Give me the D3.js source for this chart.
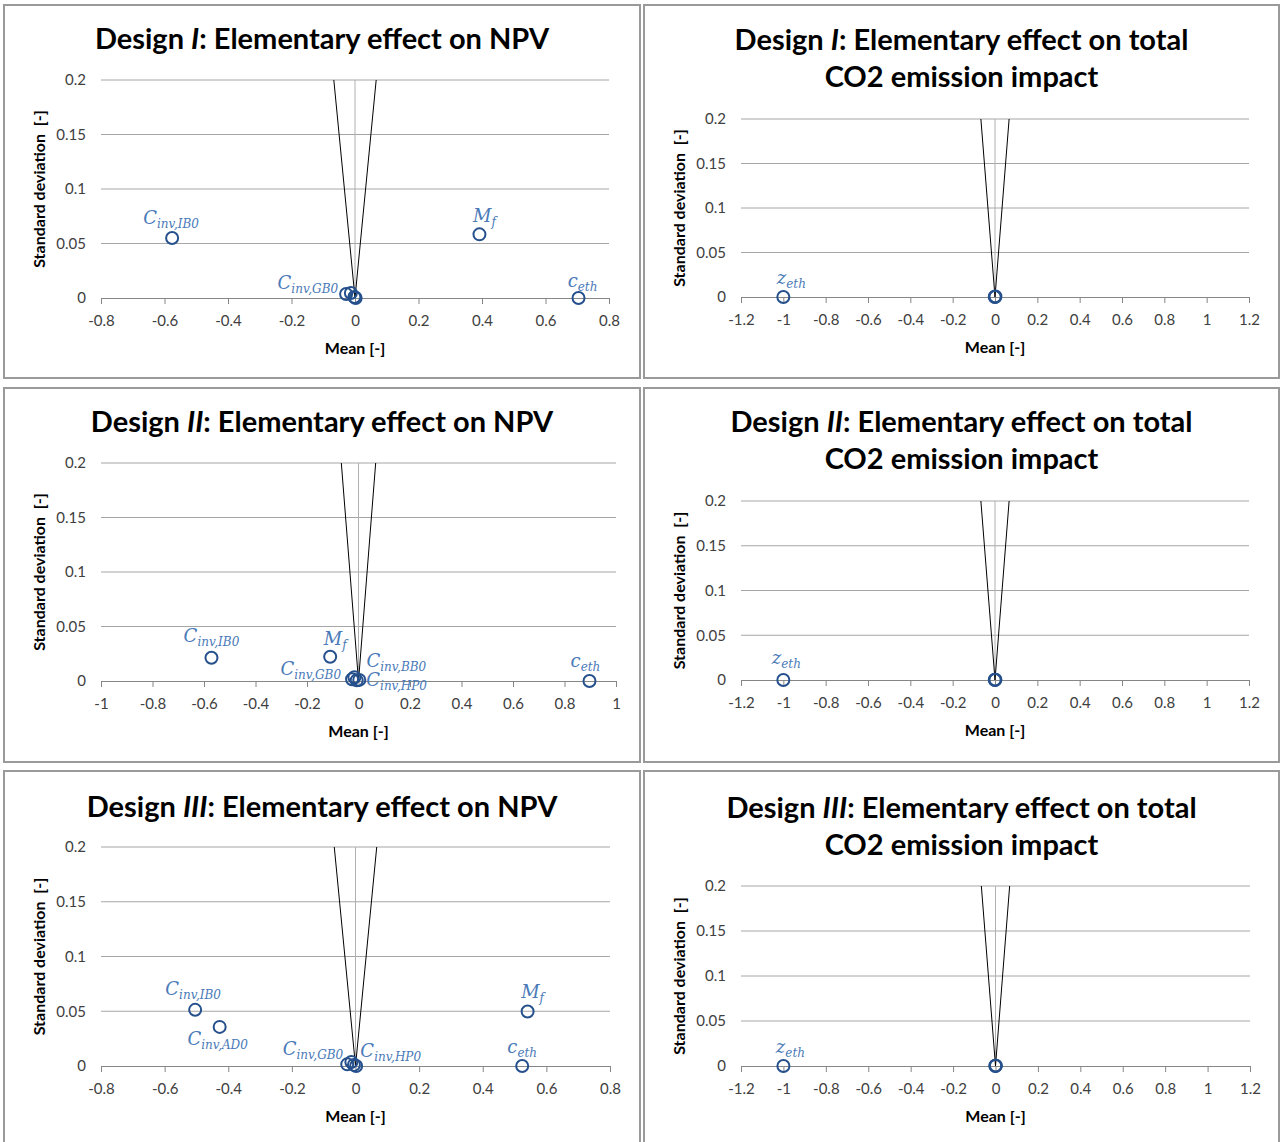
<!DOCTYPE html>
<html>
<head>
<meta charset="utf-8">
<script src="https://cdn.jsdelivr.net/npm/d3@7"></script>
<style>
body { margin: 0; background: #fff; }
svg { display: block; font-family: Lato, "Open Sans", sans-serif; }
</style>
</head>
<body>
<script>
// tick values
var yTicks = [0, 0.05, 0.1, 0.15, 0.2];
var xTicksNpvI = [-0.8, -0.6, -0.4, -0.2, 0, 0.2, 0.4, 0.6, 0.8];
var xTicksNpvII = [-1, -0.8, -0.6, -0.4, -0.2, 0, 0.2, 0.4, 0.6, 0.8, 1];
var xTicksCo2 = [-1.2, -1, -0.8, -0.6, -0.4, -0.2, 0, 0.2, 0.4, 0.6, 0.8, 1, 1.2];

// the two black boundary lines (mean = +/- sd/3)
var funnel = [
    {mean: -0.0667, sd: 0.2},
    {mean: 0, sd: 0},
    {mean: 0.0667, sd: 0.2}
];

// elementary effects: symbol, subscript, mean, standard deviation
var npvDesignI = [
    {sym: "C", sub: "inv,IB0", mean: -0.576, sd: 0.055},
    {sym: "M", sub: "f", mean: 0.392, sd: 0.0584},
    {sym: "c", sub: "eth", mean: 0.704, sd: 0},
    {sym: "C", sub: "inv,GB0", mean: -0.028, sd: 0.0037},
    {mean: -0.013, sd: 0.0046},
    {mean: -0.002, sd: 0.0009},
    {mean: 0.002, sd: 0}
];
var npvDesignII = [
    {sym: "C", sub: "inv,IB0", mean: -0.571, sd: 0.0213},
    {sym: "M", sub: "f", mean: -0.11, sd: 0.0223},
    {sym: "c", sub: "eth", mean: 0.897, sd: 0},
    {sym: "C", sub: "inv,GB0", mean: -0.025, sd: 0.0016},
    {sym: "C", sub: "inv,BB0", mean: -0.016, sd: 0.0034},
    {sym: "C", sub: "inv,HP0", mean: 0.003, sd: 0.001},
    {mean: -0.007, sd: 0.0006}
];
var npvDesignIII = [
    {sym: "C", sub: "inv,IB0", mean: -0.504, sd: 0.0513},
    {sym: "C", sub: "inv,AD0", mean: -0.427, sd: 0.0357},
    {sym: "M", sub: "f", mean: 0.541, sd: 0.0498},
    {sym: "c", sub: "eth", mean: 0.524, sd: 0},
    {sym: "C", sub: "inv,GB0", mean: -0.026, sd: 0.0015},
    {sym: "C", sub: "inv,HP0", mean: -0.013, sd: 0.0037},
    {mean: -0.005, sd: 0.001},
    {mean: 0.002, sd: 0}
];
var co2DesignI = [
    {sym: "z", sub: "eth", mean: -1, sd: 0},
    {mean: 0, sd: 0},
    {mean: 0.002, sd: 0.0005},
    {mean: -0.001, sd: 0.0003}
];
var co2DesignII = [
    {sym: "z", sub: "eth", mean: -1, sd: 0},
    {mean: 0, sd: 0},
    {mean: 0.002, sd: 0.0004},
    {mean: -0.001, sd: 0.0002}
];
var co2DesignIII = [
    {sym: "z", sub: "eth", mean: -1, sd: 0},
    {mean: 0, sd: 0},
    {mean: 0.002, sd: 0.0004},
    {mean: -0.001, sd: 0.0002}
];

/* layout of the six chart boxes (page pixels) */
var panels = [
    {box: [4, 5, 636, 373], roman: "I", npv: true, data: npvDesignI, xTicks: xTicksNpvI,
     plot: {l: 101, r: 609, t: 80, b: 298}, titleY: [49],
     offsets: {"inv,IB0": [-1, -14, "middle"], "f": [5, -12, "middle"], "eth": [4, -11, "middle"], "inv,GB0": [-8, -5, "end"]}},
    {box: [644, 5, 635, 373], roman: "I", npv: false, data: co2DesignI, xTicks: xTicksCo2,
     plot: {l: 741, r: 1249, t: 119, b: 297}, titleY: [50, 87],
     offsets: {"eth": [8, -13, "middle"]}},
    {box: [4, 388, 636, 374], roman: "II", npv: true, data: npvDesignII, xTicks: xTicksNpvII,
     plot: {l: 101, r: 616, t: 463, b: 681}, titleY: [432],
     offsets: {"inv,IB0": [0, -16, "middle"], "f": [5, -12, "middle"], "eth": [-4, -14, "middle"],
               "inv,GB0": [-11, -4, "end"], "inv,BB0": [12, -10, "start"], "inv,HP0": [7, 6, "start"]}},
    {box: [644, 388, 635, 374], roman: "II", npv: false, data: co2DesignII, xTicks: xTicksCo2,
     plot: {l: 741, r: 1249, t: 501, b: 680}, titleY: [432, 469],
     offsets: {"eth": [3, -16, "middle"]}},
    {box: [4, 771, 636, 380], roman: "III", npv: true, data: npvDesignIII, xTicks: xTicksNpvI,
     plot: {l: 101, r: 610, t: 847, b: 1066}, titleY: [817],
     offsets: {"inv,IB0": [-2, -15, "middle"], "inv,AD0": [-2, 18, "middle"], "f": [5, -13, "middle"], "eth": [0, -13, "middle"],
               "inv,GB0": [-4, -9, "end"], "inv,HP0": [9, -5, "start"]}},
    {box: [644, 771, 635, 380], roman: "III", npv: false, data: co2DesignIII, xTicks: xTicksCo2,
     plot: {l: 741, r: 1250, t: 886, b: 1066}, titleY: [818, 855],
     offsets: {"eth": [7, -13, "middle"]}}
];

var fmt = function(d) { return String(Math.round(d * 100) / 100); };

var svg = d3.select('body').append('svg')
    .attr('width', 1280)
    .attr('height', 1142);

svg.append('rect').attr('width', 1280).attr('height', 1142).attr('fill', '#fff');

panels.forEach(function(p) {
    var g = svg.append('g');
    var cx = p.box[0] + p.box[2] / 2;

    // chart frame
    g.append('rect')
        .attr('x', p.box[0]).attr('y', p.box[1])
        .attr('width', p.box[2]).attr('height', p.box[3])
        .attr('fill', 'none').attr('stroke', '#9a9a9a').attr('stroke-width', 2);

    // title
    var t1 = g.append('text').attr('x', cx).attr('y', p.titleY[0])
        .attr('text-anchor', 'middle')
        .style('font-size', '29px').style('font-weight', 'bold').attr('fill', '#000');
    t1.append('tspan').text('Design ');
    t1.append('tspan').style('font-style', 'italic').text(p.roman);
    t1.append('tspan').text(p.npv ? ': Elementary effect on NPV' : ': Elementary effect on total');
    if (!p.npv) {
        g.append('text').attr('x', cx).attr('y', p.titleY[1])
            .attr('text-anchor', 'middle')
            .style('font-size', '29px').style('font-weight', 'bold')
            .text('CO2 emission impact');
    }

    var x = d3.scaleLinear()
        .domain(d3.extent(p.xTicks))
        .range([p.plot.l, p.plot.r]);
    var y = d3.scaleLinear()
        .domain(d3.extent(yTicks))
        .range([p.plot.b, p.plot.t]);

    // horizontal gridlines
    g.selectAll('line.grid').data(yTicks.filter(function(v) { return v > 0; }))
        .join('line')
        .attr('class', 'grid')
        .attr('x1', p.plot.l).attr('x2', p.plot.r)
        .attr('y1', function(v) { return y(v); }).attr('y2', function(v) { return y(v); })
        .attr('stroke', '#a6a6a6').attr('stroke-width', 1);

    // vertical axis crossing at mean = 0
    g.append('line')
        .attr('x1', x(0)).attr('x2', x(0))
        .attr('y1', y(0)).attr('y2', y(0.2))
        .attr('stroke', '#b0b0b0').attr('stroke-width', 1);

    // x axis
    var xa = g.append('g')
        .attr('transform', 'translate(0,' + y(0) + ')')
        .call(d3.axisBottom(x).tickValues(p.xTicks).tickFormat(fmt)
            .tickSizeInner(6).tickSizeOuter(0).tickPadding(11));
    xa.select('.domain').attr('stroke', '#868686');
    xa.selectAll('.tick line').attr('stroke', '#868686');
    xa.selectAll('.tick text').attr('fill', '#404040')
        .style('font-size', '15px').style('font-family', 'Lato, sans-serif');

    // y axis labels
    var ya = g.append('g')
        .attr('transform', 'translate(' + p.plot.l + ',0)')
        .call(d3.axisLeft(y).tickValues(yTicks).tickFormat(fmt).tickSize(0).tickPadding(15));
    ya.select('.domain').remove();
    ya.selectAll('.tick text').attr('fill', '#404040')
        .style('font-size', '15px').style('font-family', 'Lato, sans-serif');

    // axis titles
    g.append('text')
        .attr('x', (p.plot.l + p.plot.r) / 2).attr('y', p.plot.b + 56)
        .attr('text-anchor', 'middle')
        .style('font-size', '16px').style('font-weight', 'bold')
        .text('Mean [-]');
    g.append('text')
        .attr('transform', 'translate(' + (p.plot.l - 56) + ',' + ((p.plot.t + p.plot.b) / 2) + ') rotate(-90)')
        .attr('text-anchor', 'middle')
        .style('font-size', '16px').style('font-weight', 'bold')
        .style('white-space', 'pre')
        .text('Standard deviation  [-]');

    // funnel boundary lines
    var line = d3.line()
        .x(function(d) { return x(d.mean); })
        .y(function(d) { return y(d.sd); });
    g.append('path').datum(funnel)
        .attr('d', line)
        .attr('fill', 'none').attr('stroke', '#000').attr('stroke-width', 1);

    // markers
    g.selectAll('circle.pt').data(p.data)
        .join('circle')
        .attr('class', 'pt')
        .attr('cx', function(d) { return x(d.mean); })
        .attr('cy', function(d) { return y(d.sd); })
        .attr('r', 6)
        .attr('fill', 'none')
        .attr('stroke', '#25508c')
        .attr('stroke-width', 2);

    // data labels
    var labs = g.selectAll('text.lab').data(p.data.filter(function(d) { return d.sym; }))
        .join('text')
        .attr('class', 'lab')
        .attr('x', function(d) { return x(d.mean) + p.offsets[d.sub][0]; })
        .attr('y', function(d) { return y(d.sd) + p.offsets[d.sub][1]; })
        .attr('text-anchor', function(d) { return p.offsets[d.sub][2]; })
        .style('font-family', '"DejaVu Serif", serif')
        .style('font-style', 'italic')
        .attr('fill', '#4a7ab8');
    labs.append('tspan').style('font-size', '18px').text(function(d) { return d.sym; });
    labs.append('tspan').style('font-size', '12px').attr('dy', 4).text(function(d) { return d.sub; });
});
</script>
</body>
</html>
